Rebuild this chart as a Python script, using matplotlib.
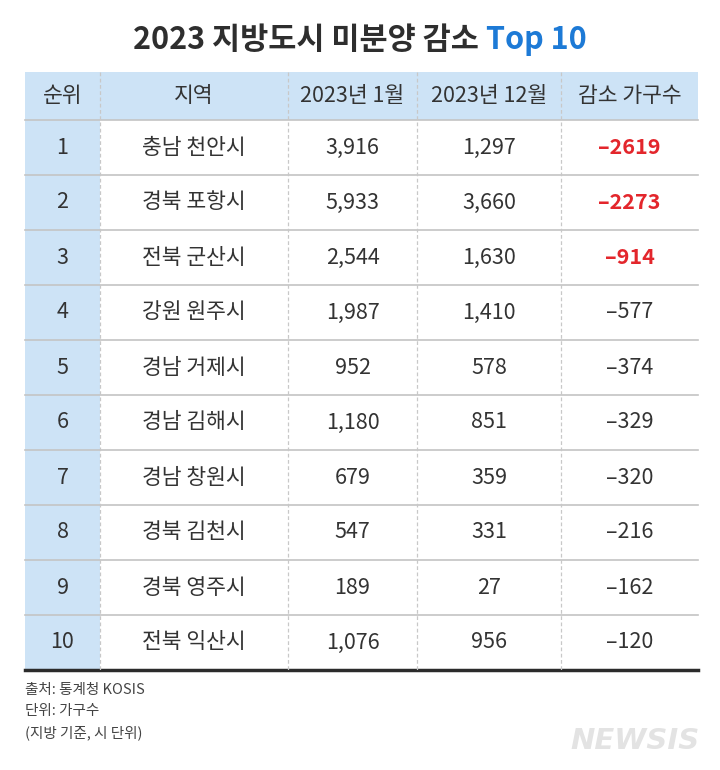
import matplotlib.pyplot as plt
from matplotlib.patches import Rectangle

plt.rcParams['font.family'] = ['Noto Sans CJK KR', 'DejaVu Sans']

# data
headers = ['순위', '지역', '2023년 1월', '2023년 12월', '감소 가구수']
ranks = [1, 2, 3, 4, 5, 6, 7, 8, 9, 10]
regions = ['충남 천안시', '경북 포항시', '전북 군산시', '강원 원주시', '경남 거제시',
           '경남 김해시', '경남 창원시', '경북 김천시', '경북 영주시', '전북 익산시']
jan = [3916, 5933, 2544, 1987, 952, 1180, 679, 547, 189, 1076]
dec = [1297, 3660, 1630, 1410, 578, 851, 359, 331, 27, 956]
drop = [-2619, -2273, -914, -577, -374, -329, -320, -216, -162, -120]
notes = ['출처: 통계청 KOSIS', '단위: 가구수', '(지방 기준, 시 단위)']

W, H = 720, 770
fig = plt.figure(figsize=(W / 100, H / 100), dpi=100)
ax = fig.add_axes([0, 0, 1, 1])
ax.set_xlim(0, W)
ax.set_ylim(H, 0)
ax.axis('off')

blue_bg = '#cde3f6'
txt = '#333333'
red = '#e3262c'

col_edges = [25, 100, 288, 417, 561, 698]
top, head_h, row_h = 72, 48, 55
n = len(ranks)
bottom = top + head_h + n * row_h

# backgrounds
ax.add_patch(Rectangle((col_edges[0], top), col_edges[-1] - col_edges[0], head_h,
                       facecolor=blue_bg, edgecolor='none'))
ax.add_patch(Rectangle((col_edges[0], top + head_h), col_edges[1] - col_edges[0], n * row_h,
                       facecolor=blue_bg, edgecolor='none'))

# horizontal lines
for i in range(n):
    y = top + head_h + i * row_h
    ax.plot([col_edges[0], col_edges[-1]], [y, y], color='#c4c4c4', lw=1.2)
ax.plot([col_edges[0], col_edges[-1]], [bottom, bottom], color='#2b2b2b', lw=2.5)

# vertical dashed lines
for x in col_edges[1:-1]:
    ax.plot([x, x], [top, bottom], color='#c8c8c8', lw=0.9, ls=(0, (3, 2)))

centers = [(col_edges[i] + col_edges[i + 1]) / 2 for i in range(5)]

# title, centred as a whole
t1 = ax.text(0, 40, '2023 지방도시 미분양 감소 ', ha='left', va='center', fontsize=22,
             fontweight='bold', color='#2e2e2e')
t2 = ax.text(0, 40, 'Top 10', ha='left', va='center', fontsize=22,
             fontweight='bold', color='#1d7ad6')
r = fig.canvas.get_renderer()
w1 = t1.get_window_extent(r).width
w2 = t2.get_window_extent(r).width
x0 = 360 - (w1 + w2) / 2
t1.set_x(x0)
t2.set_x(x0 + w1)

# header
for cx, h in zip(centers, headers):
    ax.text(cx, top + head_h / 2, h, ha='center', va='center', fontsize=15.5, color=txt)

# rows
for i in range(n):
    cy = top + head_h + i * row_h + row_h / 2
    vals = [str(ranks[i]), regions[i], f'{jan[i]:,}', f'{dec[i]:,}',
            '\u2013' + str(abs(drop[i]))]
    for j, (cx, v) in enumerate(zip(centers, vals)):
        color = red if (j == 4 and i < 3) else txt
        weight = 'bold' if (j == 4 and i < 3) else 'normal'
        ax.text(cx, cy, v, ha='center', va='center', fontsize=15.5, color=color,
                fontweight=weight)

# notes
for k, s in enumerate(notes):
    ax.text(25, 690 + k * 21.5, s, ha='left', va='center', fontsize=10.5, color='#444444')

ax.text(700, 741, 'NEWSIS', ha='right', va='center', fontsize=21, fontweight='bold',
        fontstyle='italic', color='#e3e3e3', family='DejaVu Sans')

fig.savefig('out.png', dpi=100)
